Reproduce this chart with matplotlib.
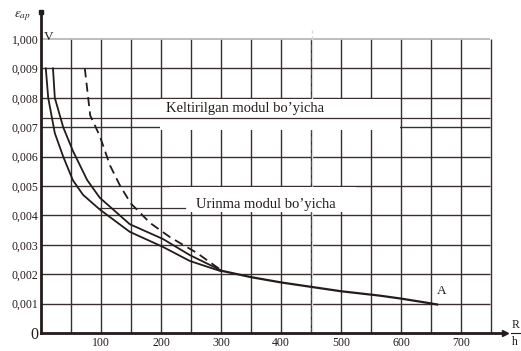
import matplotlib
matplotlib.use("Agg")
import matplotlib.pyplot as plt
from matplotlib.patches import Rectangle
from matplotlib.lines import Line2D

plt.rcParams['font.family'] = ['Liberation Serif', 'DejaVu Serif']
plt.rcParams['mathtext.fontset'] = 'stix'

# R/h values and critical strain for the three branches
r_lower = [8, 12, 23, 37, 53, 70, 98, 148, 203, 248, 300]
e_lower = [0.0090, 0.0080, 0.0068, 0.0060, 0.0052, 0.0047, 0.0042,
           0.00344, 0.00293, 0.00245, 0.00210]

r_tangent = [20, 23, 37, 53, 77, 98, 148, 203, 248, 300]
e_tangent = [0.0090, 0.0080, 0.0070, 0.0062, 0.0052, 0.0046, 0.0037,
             0.0032, 0.00265, 0.00213]

r_reduced = [73, 82, 98, 115, 132, 150, 182, 215, 260, 300]
e_reduced = [0.0090, 0.0074, 0.0067, 0.0057, 0.0050, 0.0044, 0.00374,
             0.00326, 0.00272, 0.00214]

# common branch towards point A
r_tail = [300, 350, 400, 450, 500, 565, 600, 640, 660]
e_tail = [0.00212, 0.0019, 0.00172, 0.00157, 0.00142, 0.00127, 0.00117,
          0.00104, 0.00097]

y_ticks = [0, 0.001, 0.002, 0.003, 0.004, 0.005, 0.006, 0.007, 0.008, 0.009, 0.010]
y_labels = ["0", "0,001", "0,002", "0,003", "0,004", "0,005", "0,006",
            "0,007", "0,008", "0,009", "1,000"]
x_ticks = [100, 200, 300, 400, 500, 600, 700]
x_labels = ["100", "200", "300", "400", "500", "600", "700"]
grid_x = list(range(50, 800, 50))

ink = "#241b1b"
grid_c = "#3a2e2e"

W, H = 521, 351
fig = plt.figure(figsize=(W / 100, H / 100), dpi=100)
fig.patch.set_facecolor("white")
ax = fig.add_axes([41 / W, 18 / H, (505 - 41) / W, (333 - 12) / H])
ax.set_xlim(0, 773.3)
ax.set_ylim(0, 0.010918)

# grid
ax.vlines(grid_x, 0, 0.010, color=grid_c, lw=1.0, zorder=1)
ax.hlines(y_ticks[1:-1], 0, 748, color=grid_c, lw=1.0, zorder=1)
ax.hlines([0.010], 0, 748, color="#b5b0b0", lw=1.2, zorder=1)
ax.vlines([452], 0, 0.0103, color="#d8d8d8", lw=1.0, ls=(0, (4, 2)), zorder=1)

# label panels
ax.add_patch(Rectangle((198, 0.0069), 400, 0.00107, facecolor="white",
                       edgecolor="none", zorder=2))
ax.add_patch(Rectangle((215, 0.00412), 310, 0.00085, facecolor="white",
                       edgecolor="none", zorder=2))
ax.hlines([0.0073], 0, 748, color=grid_c, lw=0.9, zorder=3)
ax.plot([98, 240], [0.00425, 0.00425], color=grid_c, lw=0.9, zorder=3)

ax.text(340, 0.00765, "Keltirilgan modul bo\u2019yicha", fontsize=10.5,
        ha="center", va="center", color=ink, zorder=4)
ax.text(375, 0.00438, "Urinma modul bo\u2019yicha", fontsize=10.5,
        ha="center", va="center", color=ink, zorder=4)

# curves
ax.plot(r_lower, e_lower, color=ink, lw=1.3, zorder=5)
ax.plot(r_tangent, e_tangent, color=ink, lw=1.3, zorder=5)
ax.plot(r_reduced, e_reduced, color=ink, lw=1.3, ls=(0, (5, 3)), zorder=5)
ax.plot(r_tail, e_tail, color=ink, lw=1.6, zorder=5)

ax.text(12, 0.01007, "V", fontsize=9.5, ha="center", va="center", color=ink)
ax.text(668, 0.00142, "A", fontsize=9.5, ha="center", va="center", color=ink)

# axes
for s in ["top", "right"]:
    ax.spines[s].set_visible(False)
for s in ["left", "bottom"]:
    ax.spines[s].set_color(ink)
    ax.spines[s].set_linewidth(2.0)
ax.plot([773.3], [0], marker=">", ms=5, color=ink, clip_on=False, zorder=6)
ax.plot([0], [0.010918], marker="s", ms=3, color=ink, clip_on=False, zorder=6)

ax.set_yticks(y_ticks, y_labels)
ax.set_xticks(x_ticks, x_labels)
ax.tick_params(axis="both", length=0, colors=ink, labelsize=8.5)
ax.tick_params(axis="y", pad=2)
ax.tick_params(axis="x", pad=3)
ax.get_yticklabels()[0].set_fontsize(11.5)

fig.text(22 / W, 1 - 16 / H, r"$\varepsilon_{ap}$", fontsize=9.5,
         ha="center", va="center", color=ink)
fig.text(512 / W, 1 - 325 / H, "R", fontsize=8.5, ha="left", va="center", color=ink)
fig.text(512 / W, 1 - 342 / H, "h", fontsize=8.5, ha="left", va="center", color=ink)
fig.add_artist(Line2D([511 / W, 521 / W], [1 - 333 / H, 1 - 333 / H],
                      transform=fig.transFigure, color=ink, lw=0.8))

fig.savefig("out.png", dpi=100)
